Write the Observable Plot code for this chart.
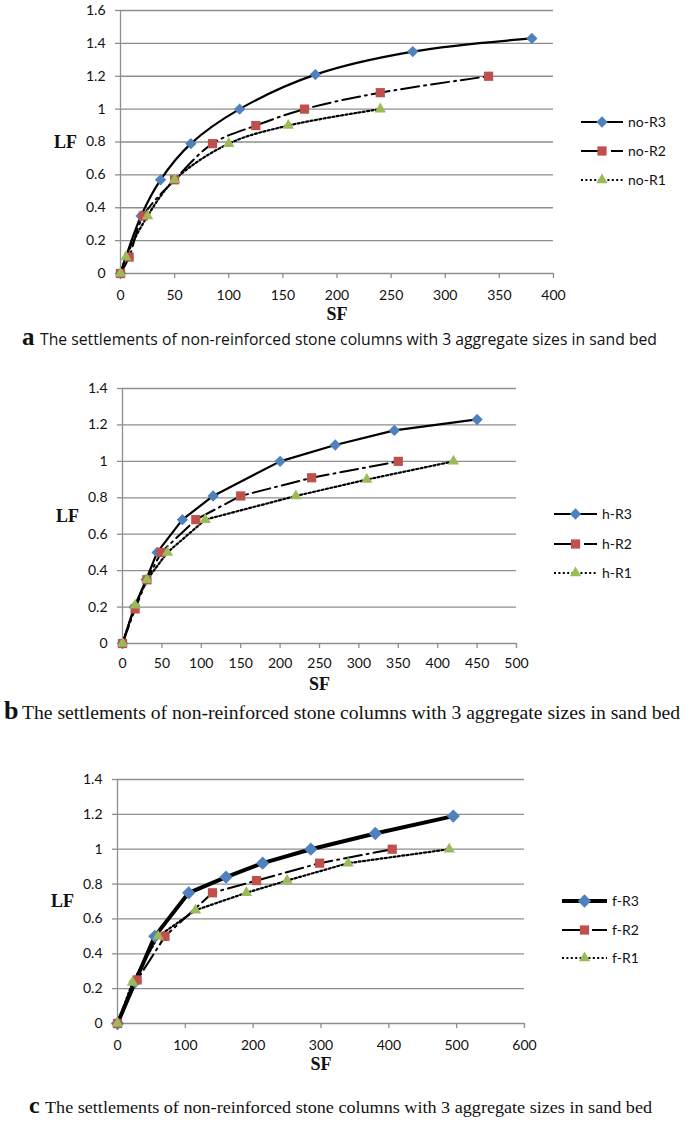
<!DOCTYPE html>
<html><head><meta charset="utf-8">
<script src="https://cdn.jsdelivr.net/npm/d3@7"></script>
<script src="https://cdn.jsdelivr.net/npm/@observablehq/plot@0.6"></script>
<style>
body{margin:0;background:#fff}
#root{position:relative;width:685px;height:1123px;overflow:hidden;background:#fff}
#root svg{position:absolute;left:0}
</style>
</head><body><div id="root"></div>
<script>
// ---------- data ----------
const noR3 = [[0,0],[19,0.35],[37,0.57],[65,0.79],[110,1.0],[180,1.21],[270,1.35],[380,1.43]];
const noR2 = [[0,0],[8,0.1],[21,0.35],[50,0.57],[85,0.79],[125,0.9],[170,1.0],[240,1.1],[340,1.2]];
const noR1 = [[0,0],[5,0.1],[25,0.35],[50,0.57],[100,0.79],[155,0.9],[240,1.0]];

const hR3 = [[0,0],[15,0.2],[30,0.35],[44,0.5],[76,0.68],[115,0.81],[200,1.0],[270,1.09],[345,1.17],[450,1.23]];
const hR2 = [[0,0],[16,0.19],[31,0.35],[49,0.5],[93,0.68],[150,0.81],[240,0.91],[350,1.0]];
const hR1 = [[0,0],[16,0.21],[31,0.35],[57,0.5],[105,0.68],[220,0.81],[310,0.9],[420,1.0]];

const fR3 = [[0,0],[26,0.24],[55,0.5],[105,0.75],[160,0.84],[214,0.92],[285,1.0],[380,1.09],[495,1.19]];
const fR2 = [[0,0],[29,0.25],[70,0.5],[140,0.75],[205,0.82],[298,0.92],[405,1.0]];
const fR1 = [[0,0],[22,0.235],[60,0.5],[115,0.65],[190,0.75],[250,0.82],[340,0.92],[489,1.0]];

const xTicksA = [0,50,100,150,200,250,300,350,400];
const yTicksA = [0,0.2,0.4,0.6,0.8,1,1.2,1.4,1.6];
const xTicksB = [0,50,100,150,200,250,300,350,400,450,500];
const yTicksB = [0,0.2,0.4,0.6,0.8,1,1.2,1.4];
const xTicksC = [0,100,200,300,400,500,600];
const yTicksC = [0,0.2,0.4,0.6,0.8,1,1.2,1.4];

const namesA = ["no-R3","no-R2","no-R1"];
const namesB = ["h-R3","h-R2","h-R1"];
const namesC = ["f-R3","f-R2","f-R1"];
const captionText = "The settlements of non-reinforced stone columns with 3 aggregate sizes in sand bed";
const captionLetters = ["a","b","c"];
const axisNames = ["SF","LF"];

// ---------- styles ----------
const GRID = "#8e8e8e";
const SANS = "Lato, 'Open Sans', sans-serif";
const SERIF = "'Liberation Serif', 'DejaVu Serif', serif";
const sty = {
  R3: {dash: null, width: 2.2, symbol: "diamond2", fill: "#4F81BD", r: 5.1},
  R2: {dash: "18,5,2,5", width: 2, symbol: "square", fill: "#C0504D", r: 5.2},
  R1: {dash: "2,2.4", width: 2.2, symbol: "triangle", fill: "#9BBB59", r: 4.2}
};

const root = document.getElementById("root");

function panel({top, height, mt, mb, ml, mr, xDomain, yDomain, xTicks, yTicks, series, curve, r3width, r3r, xPad}) {
  const marks = [
    Plot.gridY(yTicks, {stroke: GRID, strokeOpacity: 1, strokeWidth: 1.3}),
    Plot.ruleX([0], {stroke: GRID, strokeWidth: 1.3}),
    Plot.axisY(yTicks, {tickSize: 5, tickPadding: 10, stroke: GRID, strokeWidth: 1.3, fill: "#111", label: null, tickFormat: d => String(d)}),
    Plot.axisX(xTicks, {tickSize: 5, tickPadding: xPad, stroke: GRID, strokeWidth: 1.3, fill: "#111", label: null, tickFormat: d => String(d)}),
    Plot.text([axisNames[1]], {frameAnchor: "left", dx: -55, fontFamily: SERIF, fontWeight: "bold", fontSize: 18, fill: "#111", textAnchor: "middle"}),
    Plot.text([axisNames[0]], {frameAnchor: "bottom", dy: 46, fontFamily: SERIF, fontWeight: "bold", fontSize: 18, fill: "#111"})
  ];
  const keys = ["R3","R2","R1"];
  series.forEach((data, i) => {
    const s = sty[keys[i]];
    const w = i === 0 && r3width ? r3width : s.width;
    marks.push(Plot.line(data, {x: d => d[0], y: d => d[1], stroke: "#000", strokeWidth: w,
      strokeDasharray: s.dash, curve: curve[i], strokeLinejoin: "round"}));
  });
  series.forEach((data, i) => {
    const s = sty[keys[i]];
    const r = i === 0 && r3r ? r3r : s.r;
    marks.push(Plot.dot(data, {x: d => d[0], y: d => d[1], symbol: s.symbol, fill: s.fill, stroke: "none", r}));
  });
  const p = Plot.plot({
    width: 685, height, marginTop: mt, marginBottom: mb, marginLeft: ml, marginRight: mr,
    x: {domain: xDomain}, y: {domain: yDomain},
    style: {fontFamily: SANS, fontSize: "14px", background: "transparent", overflow: "visible"},
    marks
  });
  p.style.top = top + "px";
  root.appendChild(p);
}

panel({top: 0, height: 330, mt: 10, mb: 57, ml: 120, mr: 132, xDomain: [0,400], yDomain: [0,1.6],
  xTicks: xTicksA, yTicks: yTicksA, series: [noR3, noR2, noR1], curve: ["catmull-rom","catmull-rom","catmull-rom"], xPad: 12});
panel({top: 370, height: 330, mt: 18, mb: 57, ml: 122, mr: 169, xDomain: [0,500], yDomain: [0,1.4],
  xTicks: xTicksB, yTicks: yTicksB, series: [hR3, hR2, hR1], curve: ["linear","linear","linear"], xPad: 10});
panel({top: 760, height: 320, mt: 19, mb: 57, ml: 117, mr: 161, xDomain: [0,600], yDomain: [0,1.4],
  xTicks: xTicksC, yTicks: yTicksC, series: [fR3, fR2, fR1], curve: ["linear","linear","linear"], r3width: 4, r3r: 6, xPad: 12});

// ---------- overlay: legends + captions ----------
const ov = d3.select(root).append("svg").attr("width", 685).attr("height", 1123).style("top", "0px");
const symMap = {diamond2: d3.symbolDiamond2, square: d3.symbolSquare, triangle: d3.symbolTriangle};

function legend(x0, x1, ys, names, r3width, r3r) {
  const keys = ["R3","R2","R1"];
  keys.forEach((k, i) => {
    const s = sty[k];
    const y = ys[i];
    ov.append("line").attr("x1", x0).attr("x2", x1).attr("y1", y).attr("y2", y)
      .attr("stroke", "#000").attr("stroke-width", i === 0 && r3width ? r3width : s.width)
      .attr("stroke-dasharray", s.dash);
    const r = i === 0 && r3r ? r3r : s.r;
    ov.append("path").attr("d", d3.symbol(symMap[s.symbol], Math.PI * r * r)())
      .attr("transform", `translate(${(x0 + x1) / 2},${y})`).attr("fill", s.fill);
    ov.append("text").attr("x", x1 + 5).attr("y", y).attr("dy", "0.35em")
      .attr("font-family", SANS).attr("font-size", 14).attr("fill", "#111").text(names[i]);
  });
}
legend(581, 623, [122, 151, 180], namesA);
legend(554, 597, [514, 544, 573], namesB);
legend(562, 607, [901, 930, 958], namesC, 4, 6);

function caption(letter, lx, y, tx, tx1, font, size, letterSize) {
  ov.append("text").attr("x", lx).attr("y", y).attr("font-family", SERIF).attr("font-weight", "bold")
    .attr("font-size", letterSize).attr("fill", "#111").text(letter);
  ov.append("text").attr("x", tx).attr("y", y).attr("font-family", font).attr("font-size", size)
    .attr("fill", "#111").attr("textLength", tx1 - tx).attr("lengthAdjust", "spacingAndGlyphs").text(captionText);
}
caption(captionLetters[0], 22, 345, 40, 657, "'Open Sans', Lato, sans-serif", 15.5, 25);
caption(captionLetters[1], 4, 719, 22, 680, SERIF, 18, 26);
caption(captionLetters[2], 29, 1113, 45, 652, SERIF, 16.5, 24);
</script></body></html>
